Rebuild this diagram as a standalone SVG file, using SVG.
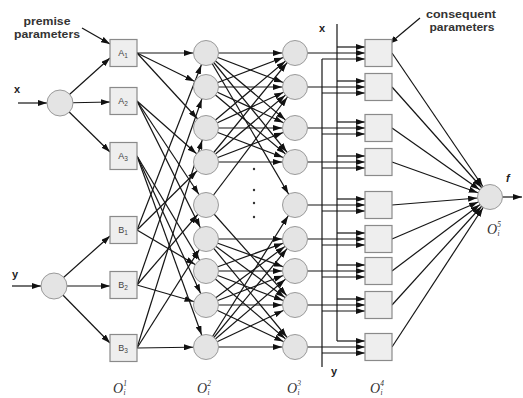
<svg xmlns="http://www.w3.org/2000/svg" width="523" height="398" viewBox="0 0 523 398">
<style>
.c line{stroke:#151515;stroke-width:1.2;fill:none}
.e{marker-end:url(#ac)}
.t{marker-end:url(#a)}
.circ{fill:#e4e4e4;stroke:#9a9a9a;stroke-width:1}
.sq{fill:#eeeeee;stroke:#8a8a8a;stroke-width:1.2}
.lb{font-family:"Liberation Sans",Arial,sans-serif;font-size:9px;fill:#444;text-anchor:middle}
.note{font-family:"Liberation Sans",Arial,sans-serif;font-size:10px;font-weight:bold;fill:#333;text-anchor:middle}
.io{font-family:"Liberation Sans",Arial,sans-serif;font-size:11px;font-weight:bold;fill:#222}
.ol{font-family:"Liberation Serif","Times New Roman",serif;font-style:italic;font-size:14px;fill:#333}
</style>
<defs>
<marker id="a" viewBox="0 0 9 6" markerWidth="9" markerHeight="6" refX="9" refY="3" orient="auto" markerUnits="userSpaceOnUse"><path d="M0,0 L9,3 L0,6 z" fill="#111"/></marker>
<marker id="ac" viewBox="0 0 22 6" markerWidth="22" markerHeight="6" refX="22" refY="3" orient="auto" markerUnits="userSpaceOnUse"><path d="M0,0 L9,3 L0,6 z" fill="#111"/></marker>
</defs>
<rect width="523" height="398" fill="#ffffff"/>
<g id="connectors" class="c">
<line class="t" x1="18" y1="103" x2="47" y2="103"/>
<line class="t" x1="60" y1="103" x2="110" y2="58"/>
<line class="t" x1="60" y1="103" x2="110" y2="102"/>
<line class="t" x1="60" y1="103" x2="110" y2="152"/>
<line class="t" x1="12" y1="286" x2="41" y2="286"/>
<line class="t" x1="54" y1="286" x2="110" y2="236"/>
<line class="t" x1="54" y1="286" x2="110" y2="286"/>
<line class="t" x1="54" y1="286" x2="110" y2="343"/>
<line class="t" x1="82" y1="28" x2="110" y2="44"/>
<line class="t" x1="420" y1="18" x2="389" y2="44"/>
<line class="e" x1="137" y1="53" x2="206" y2="53"/>
<line class="e" x1="137" y1="53" x2="206" y2="87"/>
<line class="e" x1="137" y1="53" x2="206" y2="128"/>
<line class="e" x1="137" y1="101" x2="206" y2="162"/>
<line class="e" x1="137" y1="101" x2="206" y2="205"/>
<line class="e" x1="137" y1="101" x2="206" y2="239"/>
<line class="e" x1="137" y1="156" x2="206" y2="271"/>
<line class="e" x1="137" y1="156" x2="206" y2="305"/>
<line class="e" x1="137" y1="156" x2="206" y2="347"/>
<line class="e" x1="137" y1="230" x2="206" y2="53"/>
<line class="e" x1="137" y1="230" x2="206" y2="162"/>
<line class="e" x1="137" y1="230" x2="206" y2="271"/>
<line class="e" x1="137" y1="285" x2="206" y2="87"/>
<line class="e" x1="137" y1="285" x2="206" y2="205"/>
<line class="e" x1="137" y1="285" x2="206" y2="305"/>
<line class="e" x1="137" y1="348" x2="206" y2="128"/>
<line class="e" x1="137" y1="348" x2="206" y2="239"/>
<line class="e" x1="137" y1="348" x2="206" y2="347"/>
<line class="e" x1="206" y1="53" x2="295" y2="53"/>
<line class="e" x1="206" y1="53" x2="295" y2="87"/>
<line class="e" x1="206" y1="53" x2="295" y2="128"/>
<line class="e" x1="206" y1="53" x2="295" y2="162"/>
<line class="e" x1="206" y1="87" x2="295" y2="53"/>
<line class="e" x1="206" y1="87" x2="295" y2="87"/>
<line class="e" x1="206" y1="87" x2="295" y2="128"/>
<line class="e" x1="206" y1="87" x2="295" y2="162"/>
<line class="e" x1="206" y1="128" x2="295" y2="53"/>
<line class="e" x1="206" y1="128" x2="295" y2="87"/>
<line class="e" x1="206" y1="128" x2="295" y2="128"/>
<line class="e" x1="206" y1="128" x2="295" y2="162"/>
<line class="e" x1="206" y1="162" x2="295" y2="53"/>
<line class="e" x1="206" y1="162" x2="295" y2="87"/>
<line class="e" x1="206" y1="162" x2="295" y2="128"/>
<line class="e" x1="206" y1="162" x2="295" y2="162"/>
<line class="e" x1="206" y1="205" x2="295" y2="87"/>
<line class="e" x1="206" y1="205" x2="295" y2="305"/>
<line class="e" x1="206" y1="53" x2="295" y2="205"/>
<line class="e" x1="206" y1="347" x2="295" y2="205"/>
<line class="e" x1="206" y1="239" x2="295" y2="239"/>
<line class="e" x1="206" y1="239" x2="295" y2="271"/>
<line class="e" x1="206" y1="239" x2="295" y2="305"/>
<line class="e" x1="206" y1="239" x2="295" y2="347"/>
<line class="e" x1="206" y1="271" x2="295" y2="239"/>
<line class="e" x1="206" y1="271" x2="295" y2="271"/>
<line class="e" x1="206" y1="271" x2="295" y2="305"/>
<line class="e" x1="206" y1="271" x2="295" y2="347"/>
<line class="e" x1="206" y1="305" x2="295" y2="239"/>
<line class="e" x1="206" y1="305" x2="295" y2="271"/>
<line class="e" x1="206" y1="305" x2="295" y2="305"/>
<line class="e" x1="206" y1="305" x2="295" y2="347"/>
<line class="e" x1="206" y1="347" x2="295" y2="239"/>
<line class="e" x1="206" y1="347" x2="295" y2="271"/>
<line class="e" x1="206" y1="347" x2="295" y2="305"/>
<line class="e" x1="206" y1="347" x2="295" y2="347"/>
<line x1="337" y1="24" x2="337" y2="341"/>
<line x1="322" y1="59" x2="322" y2="367"/>
<line class="t" x1="295" y1="53" x2="365" y2="53"/>
<line class="t" x1="337" y1="47" x2="365" y2="47"/>
<line class="t" x1="322" y1="59" x2="365" y2="59"/>
<line class="t" x1="295" y1="87" x2="365" y2="87"/>
<line class="t" x1="337" y1="81" x2="365" y2="81"/>
<line class="t" x1="322" y1="93" x2="365" y2="93"/>
<line class="t" x1="295" y1="128" x2="365" y2="128"/>
<line class="t" x1="337" y1="122" x2="365" y2="122"/>
<line class="t" x1="322" y1="134" x2="365" y2="134"/>
<line class="t" x1="295" y1="162" x2="365" y2="162"/>
<line class="t" x1="337" y1="156" x2="365" y2="156"/>
<line class="t" x1="322" y1="168" x2="365" y2="168"/>
<line class="t" x1="295" y1="205" x2="365" y2="205"/>
<line class="t" x1="337" y1="199" x2="365" y2="199"/>
<line class="t" x1="322" y1="211" x2="365" y2="211"/>
<line class="t" x1="295" y1="239" x2="365" y2="239"/>
<line class="t" x1="337" y1="233" x2="365" y2="233"/>
<line class="t" x1="322" y1="245" x2="365" y2="245"/>
<line class="t" x1="295" y1="271" x2="365" y2="271"/>
<line class="t" x1="337" y1="265" x2="365" y2="265"/>
<line class="t" x1="322" y1="277" x2="365" y2="277"/>
<line class="t" x1="295" y1="305" x2="365" y2="305"/>
<line class="t" x1="337" y1="299" x2="365" y2="299"/>
<line class="t" x1="322" y1="311" x2="365" y2="311"/>
<line class="t" x1="295" y1="347" x2="365" y2="347"/>
<line class="t" x1="337" y1="341" x2="365" y2="341"/>
<line class="t" x1="322" y1="353" x2="365" y2="353"/>
<line class="e" x1="392" y1="53" x2="490" y2="197"/>
<line class="e" x1="392" y1="87" x2="490" y2="197"/>
<line class="e" x1="392" y1="128" x2="490" y2="197"/>
<line class="e" x1="392" y1="162" x2="490" y2="197"/>
<line class="e" x1="392" y1="205" x2="490" y2="197"/>
<line class="e" x1="392" y1="239" x2="490" y2="197"/>
<line class="e" x1="392" y1="271" x2="490" y2="197"/>
<line class="e" x1="392" y1="305" x2="490" y2="197"/>
<line class="e" x1="392" y1="347" x2="490" y2="197"/>
<line class="t" x1="490" y1="197" x2="522" y2="197"/>
</g>
<g id="dots" fill="#333">
<circle cx="254" cy="169" r="1.2"/>
<circle cx="254" cy="190" r="1.2"/>
<circle cx="254" cy="203" r="1.2"/>
<circle cx="254" cy="217" r="1.2"/>
</g>
<g id="in-x"><circle class="circ" cx="60" cy="103" r="13"/></g>
<g id="in-y"><circle class="circ" cx="54" cy="286" r="13"/></g>
<g id="A1"><rect class="sq" x="110" y="39.5" width="27" height="27"/><text class="lb" x="123" y="56">A<tspan font-size="6.5" dy="2">1</tspan></text></g>
<g id="A2"><rect class="sq" x="110" y="87.5" width="27" height="27"/><text class="lb" x="123" y="104">A<tspan font-size="6.5" dy="2">2</tspan></text></g>
<g id="A3"><rect class="sq" x="110" y="142.5" width="27" height="27"/><text class="lb" x="123" y="159">A<tspan font-size="6.5" dy="2">3</tspan></text></g>
<g id="B1"><rect class="sq" x="110" y="216.5" width="27" height="27"/><text class="lb" x="123" y="233">B<tspan font-size="6.5" dy="2">1</tspan></text></g>
<g id="B2"><rect class="sq" x="110" y="271.5" width="27" height="27"/><text class="lb" x="123" y="288">B<tspan font-size="6.5" dy="2">2</tspan></text></g>
<g id="B3"><rect class="sq" x="110" y="334.5" width="27" height="27"/><text class="lb" x="123" y="351">B<tspan font-size="6.5" dy="2">3</tspan></text></g>
<g id="L2">
<circle class="circ" cx="206" cy="53" r="12.5"/>
<circle class="circ" cx="206" cy="87" r="12.5"/>
<circle class="circ" cx="206" cy="128" r="12.5"/>
<circle class="circ" cx="206" cy="162" r="12.5"/>
<circle class="circ" cx="206" cy="205" r="12.5"/>
<circle class="circ" cx="206" cy="239" r="12.5"/>
<circle class="circ" cx="206" cy="271" r="12.5"/>
<circle class="circ" cx="206" cy="305" r="12.5"/>
<circle class="circ" cx="206" cy="347" r="12.5"/>
</g>
<g id="L3">
<circle class="circ" cx="295" cy="53" r="12.5"/>
<circle class="circ" cx="295" cy="87" r="12.5"/>
<circle class="circ" cx="295" cy="128" r="12.5"/>
<circle class="circ" cx="295" cy="162" r="12.5"/>
<circle class="circ" cx="295" cy="205" r="12.5"/>
<circle class="circ" cx="295" cy="239" r="12.5"/>
<circle class="circ" cx="295" cy="271" r="12.5"/>
<circle class="circ" cx="295" cy="305" r="12.5"/>
<circle class="circ" cx="295" cy="347" r="12.5"/>
</g>
<g id="L4">
<rect class="sq" x="365" y="39.5" width="27" height="27"/>
<rect class="sq" x="365" y="73.5" width="27" height="27"/>
<rect class="sq" x="365" y="114.5" width="27" height="27"/>
<rect class="sq" x="365" y="148.5" width="27" height="27"/>
<rect class="sq" x="365" y="191.5" width="27" height="27"/>
<rect class="sq" x="365" y="225.5" width="27" height="27"/>
<rect class="sq" x="365" y="257.5" width="27" height="27"/>
<rect class="sq" x="365" y="291.5" width="27" height="27"/>
<rect class="sq" x="365" y="333.5" width="27" height="27"/>
</g>
<g id="out"><circle class="circ" cx="490" cy="197" r="12.5"/></g>
<g id="labels">
<text class="note" x="47" y="25" textLength="47" lengthAdjust="spacingAndGlyphs">premise</text>
<text class="note" x="47" y="38" textLength="66" lengthAdjust="spacingAndGlyphs">parameters</text>
<text class="note" x="461" y="18" textLength="70" lengthAdjust="spacingAndGlyphs">consequent</text>
<text class="note" x="462" y="31" textLength="65" lengthAdjust="spacingAndGlyphs">parameters</text>
<text class="io" x="14" y="93">x</text>
<text class="io" x="12" y="278">y</text>
<text class="io" x="319" y="32" font-size="10">x</text>
<text class="io" x="331" y="375" font-size="10">y</text>
<text class="io" x="506" y="182" font-style="italic">f</text>
<text class="ol" x="113" y="393">O<tspan font-size="7.5" dy="-7">1</tspan><tspan font-size="7.5" dx="-3.5" dy="9">i</tspan></text>
<text class="ol" x="197" y="393">O<tspan font-size="7.5" dy="-7">2</tspan><tspan font-size="7.5" dx="-3.5" dy="9">i</tspan></text>
<text class="ol" x="287" y="393">O<tspan font-size="7.5" dy="-7">3</tspan><tspan font-size="7.5" dx="-3.5" dy="9">i</tspan></text>
<text class="ol" x="370" y="393">O<tspan font-size="7.5" dy="-7">4</tspan><tspan font-size="7.5" dx="-3.5" dy="9">i</tspan></text>
<text class="ol" x="487" y="234">O<tspan font-size="7.5" dy="-7">5</tspan><tspan font-size="7.5" dx="-3.5" dy="9">i</tspan></text>
</g>
</svg>
